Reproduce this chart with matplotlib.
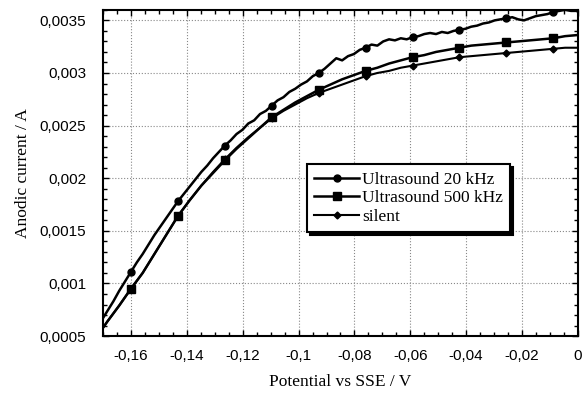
import matplotlib
matplotlib.use('Agg')
from matplotlib import pyplot as plt
from matplotlib.ticker import FuncFormatter, MultipleLocator
import numpy as np

# potential grids (V vs SSE)
potential_fine = np.append(np.round(np.arange(-0.1726, 0.0, 0.0021), 4), 0.0)
potential_coarse = np.append(np.round(np.arange(-0.1726, 0.0, 0.0042), 4), 0.0)

# anodic current (A)
current_20k = [0.00056, 0.00065, 0.00074, 0.00083, 0.00093, 0.00102, 0.00111, 0.00120,
               0.00128, 0.00137, 0.00146, 0.00154, 0.00162, 0.00170, 0.00178, 0.00185,
               0.00192, 0.00199, 0.00206, 0.00212, 0.00219, 0.00225, 0.00231, 0.00236,
               0.00242, 0.00246, 0.00252, 0.00255, 0.00261, 0.00264, 0.00269, 0.00274,
               0.00277, 0.00282, 0.00285, 0.00289, 0.00292, 0.00297, 0.00300, 0.00304,
               0.00309, 0.00314, 0.00312, 0.00316, 0.00318, 0.00322, 0.00324, 0.00327,
               0.00326, 0.00330, 0.00332, 0.00331, 0.00333, 0.00332, 0.00334, 0.00335,
               0.00337, 0.00338, 0.00337, 0.00339, 0.00338, 0.00340, 0.00341, 0.00342,
               0.00344, 0.00345, 0.00347, 0.00348, 0.00350, 0.00351, 0.00352, 0.00353,
               0.00351, 0.00350, 0.00352, 0.00354, 0.00355, 0.00356, 0.00358, 0.00359,
               0.00360, 0.00359, 0.00359, 0.00358]

current_500k = [0.00048, 0.00064, 0.00079, 0.00095, 0.00110, 0.00128, 0.00146, 0.00164,
                0.00179, 0.00193, 0.00205, 0.00217, 0.00228, 0.00238, 0.00248, 0.00258,
                0.00265, 0.00272, 0.00278, 0.00284, 0.00289, 0.00294, 0.00298, 0.00302,
                0.00305, 0.00309, 0.00312, 0.00315, 0.00317, 0.00320, 0.00322, 0.00324,
                0.00326, 0.00327, 0.00328, 0.00329, 0.00330, 0.00331, 0.00332, 0.00333,
                0.00335, 0.00336, 0.00336]

current_silent = [0.00048, 0.00064, 0.00079, 0.00095, 0.00110, 0.00128, 0.00146, 0.00164,
                  0.00179, 0.00193, 0.00206, 0.00218, 0.00229, 0.00239, 0.00248, 0.00257,
                  0.00264, 0.00270, 0.00276, 0.00281, 0.00285, 0.00289, 0.00293, 0.00297,
                  0.00300, 0.00302, 0.00305, 0.00307, 0.00309, 0.00311, 0.00313, 0.00315,
                  0.00316, 0.00317, 0.00318, 0.00319, 0.00320, 0.00321, 0.00322, 0.00323,
                  0.00324, 0.00324, 0.00324]

labels = ['Ultrasound 20 kHz', 'Ultrasound 500 kHz', 'silent']

fig = plt.figure(figsize=(5.82, 3.94), dpi=100)
ax = fig.add_axes([0.177, 0.147, 0.816, 0.828])

ax.plot(potential_fine, current_20k, color='black', lw=1.8, marker='o', ms=5,
        markevery=list(range(6, 80, 8)), label=labels[0])
ax.plot(potential_coarse, current_500k, color='black', lw=1.8, marker='s', ms=5.5,
        markevery=list(range(3, 40, 4)), label=labels[1])
ax.plot(potential_coarse, current_silent, color='black', lw=1.5, marker='D', ms=3.5,
        markevery=list(range(3, 40, 4)), label=labels[2])

ax.set_xlim(-0.17, 0)
ax.set_ylim(0.0005, 0.0036)
ax.xaxis.set_major_locator(MultipleLocator(0.02))
ax.xaxis.set_minor_locator(MultipleLocator(0.005))
ax.yaxis.set_major_locator(MultipleLocator(0.0005))
ax.yaxis.set_minor_locator(MultipleLocator(0.0001))


def comma_fmt(v, pos):
    v = round(v, 5)
    if v == 0:
        return '0'
    return f'{v:g}'.replace('.', ',')


ax.xaxis.set_major_formatter(FuncFormatter(comma_fmt))
ax.yaxis.set_major_formatter(FuncFormatter(comma_fmt))
ax.tick_params(which='both', direction='in', top=True, right=True, width=1)
ax.tick_params(which='major', length=4, labelsize=11)
ax.tick_params(which='minor', length=3)
ax.tick_params(axis='y', which='major', pad=12)
ax.tick_params(axis='x', which='major', pad=9)
for lab in ax.get_xticklabels() + ax.get_yticklabels():
    lab.set_family('Liberation Sans')

ax.grid(True, which='major', linestyle=':', color='#888888', lw=0.8)
for sp in ax.spines.values():
    sp.set_linewidth(1.5)

ax.set_xlabel('Potential vs SSE / V', family='Liberation Serif', fontsize=12.5, labelpad=8)
ax.set_ylabel('Anodic current / A', family='Liberation Serif', fontsize=12.5, labelpad=6)

leg = ax.legend(loc='upper left', bbox_to_anchor=(0.43, 0.526), fancybox=False,
                shadow={'color': 'black', 'alpha': 1}, edgecolor='black',
                prop={'family': 'Liberation Serif', 'size': 12.5}, handlelength=2.6,
                borderpad=0.4, labelspacing=0.15, handletextpad=0.15,
                borderaxespad=0, framealpha=1)
leg.get_frame().set_linewidth(1.5)

fig.savefig('out.png', dpi=100)
